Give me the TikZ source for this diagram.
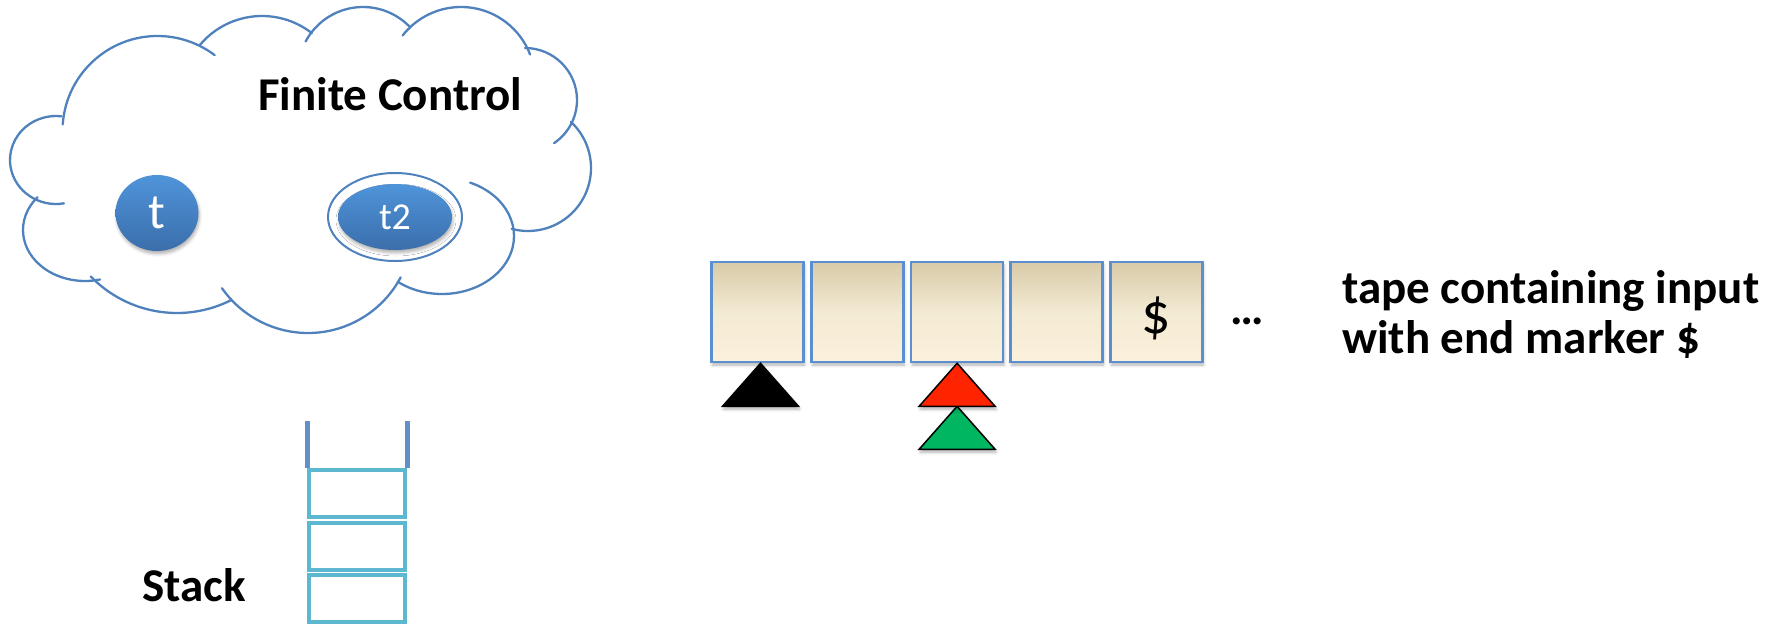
\documentclass[tikz,border=0pt]{standalone}
\usepackage{fontspec}
\setmainfont{Carlito}
\usetikzlibrary{shadows.blur,shapes.geometric}

\definecolor{cloudblue}{HTML}{4F81BD}
\definecolor{cellline}{HTML}{5B8FD0}
\definecolor{celltop}{HTML}{D8CBA8}
\definecolor{cellmid}{HTML}{F3EAD3}
\definecolor{cellbot}{HTML}{FCF1DC}
\definecolor{statetop}{HTML}{4F94DA}
\definecolor{statebot}{HTML}{3B6EAB}
\definecolor{stackline}{HTML}{5BB8D0}
\definecolor{stacktop}{HTML}{5F90C6}
\definecolor{headred}{HTML}{FF2400}
\definecolor{headgreen}{HTML}{00B660}

% one bulge of the cloud outline: centre x, centre y, radius, start angle, end angle
\newcommand\cloudlobe[5]{%
  \draw[cloudline] ([shift={(#4:#3)}]#1,#2) arc[start angle=#4,end angle=#5,radius=#3];}
% elliptic bulge: centre x, centre y, x radius, y radius, start angle, end angle
\newcommand\cloudoval[6]{%
  \draw[cloudline] ([shift={(#5:#3 and #4)}]#1,#2)
    arc[start angle=#5,end angle=#6,x radius=#3,y radius=#4];}

\begin{document}
\begin{tikzpicture}[x=1pt,y=-1pt,
  softshadow/.style={blur shadow={shadow xshift=1pt,shadow yshift=-3pt,
      shadow blur radius=3pt,shadow opacity=30}},
  cloudline/.style={draw=cloudblue,line width=2.3pt,line cap=round},
  label/.style={font=\fontsize{47pt}{56pt}\selectfont\bfseries,inner sep=0pt},
  cell/.style={draw=cellline,line width=2.6pt,minimum width=92pt,minimum height=100pt,
      inner sep=0pt,top color=celltop,bottom color=cellbot,middle color=cellmid,softshadow},
  state/.style={ellipse,inner sep=0pt,top color=statetop,bottom color=statebot,
      text=white,softshadow},
  stackcell/.style={draw=stackline,line width=4pt,minimum width=96pt,
      minimum height=47pt,inner sep=0pt},
  stackside/.style={draw=stacktop,line width=5pt},
  headtri/.style={draw=black,line width=1.5pt,line join=miter,softshadow}]

\useasboundingbox (0,0) rectangle (1785,624);

% ---------------- finite control (cloud) ----------------
\cloudlobe{157.5}{131}{95}{184}{307}
\cloudlobe{262}{97}{81}{220}{308}
\cloudlobe{363}{72}{65}{208}{315}
\cloudlobe{461}{81}{74}{218}{339}
\cloudlobe{525}{100}{52}{270}{416}
\cloudlobe{528}{168}{63}{313}{465}
\cloudoval{442}{236}{72}{58}{293}{488}
\cloudlobe{308}{228}{105}{145}{28}
\cloudlobe{177}{193}{120}{136}{63}
\cloudoval{85}{230}{62}{51}{220}{76}
\cloudoval{56}{160}{46}{44}{80}{277}

\node[label,anchor=base west] (fc) at (258,110) {Finite Control};

\node[state,minimum width=83pt,minimum height=76pt,
      font=\fontsize{50pt}{50pt}\selectfont] (t) at (157,213) {t};
\node[ellipse,draw=cloudblue,line width=2pt,minimum width=134pt,minimum height=88pt,
      fill=white] (t2ring) at (395,217) {};
\node[state,minimum width=114pt,minimum height=66pt,
      font=\fontsize{38pt}{38pt}\selectfont] (t2) at (395,217) {t2};

% ---------------- input tape ----------------
\node[cell] (c1) at (757.5,312) {};
\node[cell] (c2) at (857.3,312) {};
\node[cell] (c3) at (957.1,312) {};
\node[cell] (c4) at (1056.6,312) {};
\node[cell] (c5) at (1156.4,312) {};
\node[font=\fontsize{58pt}{58pt}\selectfont,inner sep=0pt] (endmark)
  at ([yshift=-6pt]c5.center) {\$};

\node[label,anchor=base] (dots) at (1247,324) {…};

\node[label,anchor=base west] (tape1) at (1342,303) {tape containing input};
\node[label,anchor=base west] (tape2) at (1342,353) {with end marker \$};

% read heads under the tape
\coordinate (hb) at ([xshift=3pt]c1.south);
\draw[headtri,fill=black] (hb) -- ++(38,43) -- ++(-76,0) -- cycle;
\coordinate (hr) at (c3.south);
\draw[headtri,fill=headgreen] ([yshift=-43pt]hr) -- ++(38,43) -- ++(-76,0) -- cycle;
\draw[headtri,fill=headred] (hr) -- ++(38,43) -- ++(-76,0) -- cycle;

% ---------------- stack ----------------
\node[stackcell] (s1) at (357,493.5) {};
\node[stackcell] (s2) at (357,546) {};
\node[stackcell] (s3) at (357,598.5) {};
\draw[stackside] (s1.north west) -- ++(0,-47);
\draw[stackside] (s1.north east) -- ++(0,-47);

\node[label,anchor=base west] (stk) at (142,601) {Stack};

\end{tikzpicture}
\end{document}
